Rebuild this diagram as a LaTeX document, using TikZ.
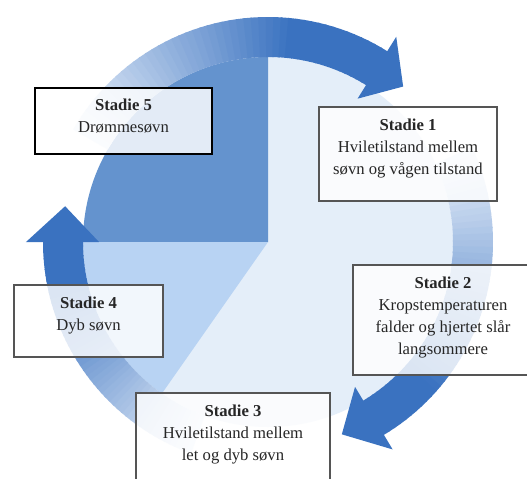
\documentclass[tikz,border=0pt]{standalone}
\usepackage{fontspec}
\setmainfont{Liberation Serif}
\usetikzlibrary{fit,calc}
\begin{document}
\begin{tikzpicture}[x=0.75pt,y=0.75pt]
\definecolor{arrowdark}{RGB}{58,114,192}
\definecolor{arrowpale}{RGB}{232,240,250}
\definecolor{piedark}{RGB}{100,147,206}
\definecolor{pielight}{RGB}{184,211,243}
\definecolor{piepale}{RGB}{228,238,249}
\definecolor{boxline}{RGB}{85,85,85}
\tikzset{
  stagebox/.style={draw=boxline, line width=1.2pt, fill=white, fill opacity=0.82, inner sep=0pt},
  stagetext/.style={align=center, inner sep=0pt, text=black!85, anchor=north,
    font=\fontsize{12.5}{16.5}\selectfont},
}
\useasboundingbox (-268,-236) rectangle (259,242);
\fill[white] (-268,-236) rectangle (259,242);
% pie
\fill[piepale] (0,0) circle (185);
\fill[piedark] (0,0) -- (90:185) arc[start angle=90,end angle=180,radius=185] -- cycle;
\fill[pielight] (0,0) -- (180:185) arc[start angle=180,end angle=235,radius=185] -- cycle;
% ring arrows (start / fully dark / head back / tip)
\foreach \s/\f/\h/\t in {150/85/58/49, 25/-40/-59/-69, 250/195/180/170} {
  \foreach \i in {0,...,47} {
    \pgfmathsetmacro\aa{\s+(\h-\s)*\i/48}
    \pgfmathsetmacro\ab{\s+(\h-\s)*(\i+1)/48-0.4}
    \pgfmathtruncatemacro\p{min(100,max(0,100*(\s-\aa)/(\s-\f)))}
    \colorlet{seg}{arrowdark!\p!arrowpale}
    \fill[seg] (\aa:185) arc[start angle=\aa,end angle=\ab,radius=185]
      -- (\ab:225) arc[start angle=\ab,end angle=\aa,radius=225] -- cycle;
  }
  \fill[arrowdark] (\h:169) -- (\t:206) -- (\h:242) -- cycle;
}
% boxes
\node[stagebox, draw=black, line width=1.8pt, fit={(-233,154) (-56,88)}] (s5) {};
\node[stagebox, fit={(51,135) (229,41)}] (s1) {};
\node[stagebox, fit={(85,-23) (265,-133)}] (s2) {};
\node[stagebox, fit={(-132,-151) (62,-245)}] (s3) {};
\node[stagebox, fit={(-254,-43) (-105,-115)}] (s4) {};
% texts
\node[stagetext] (t5) at ([yshift=-9pt]s5.north) {\textbf{Stadie 5}\\Drømmesøvn};
\node[stagetext] (t1) at ([yshift=-9pt]s1.north) {\textbf{Stadie 1}\\Hviletilstand mellem\\søvn og vågen tilstand};
\node[stagetext] (t2) at ([yshift=-9pt]s2.north) {\textbf{Stadie 2}\\Kropstemperaturen\\falder og hjertet slår\\langsommere};
\node[stagetext] (t3) at ([yshift=-9pt]s3.north) {\textbf{Stadie 3}\\Hviletilstand mellem\\let og dyb søvn};
\node[stagetext] (t4) at ([yshift=-9pt]s4.north) {\textbf{Stadie 4}\\Dyb søvn};
\end{tikzpicture}
\end{document}
